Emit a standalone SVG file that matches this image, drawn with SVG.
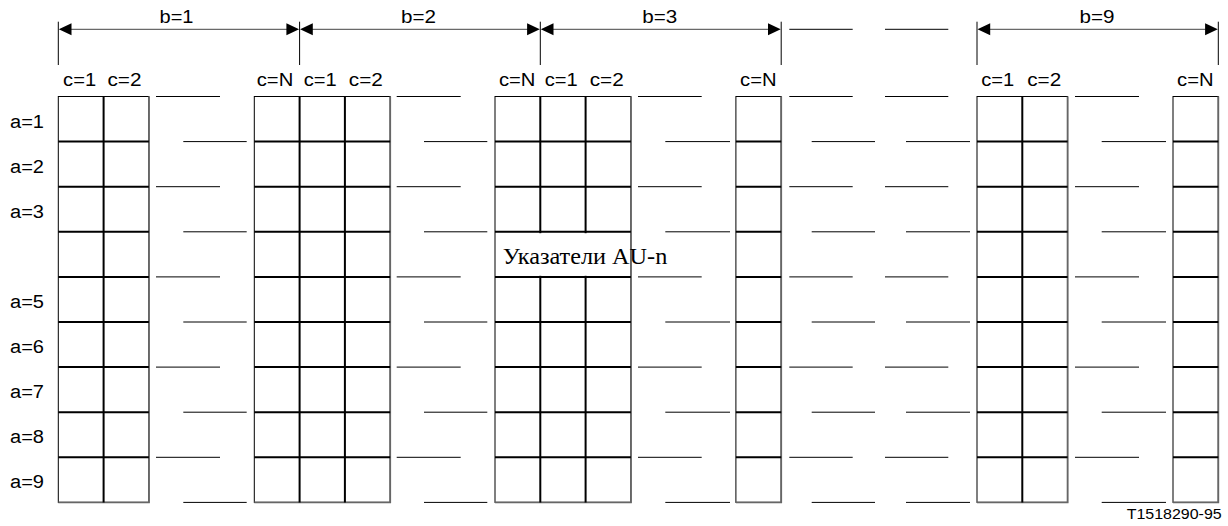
<svg xmlns="http://www.w3.org/2000/svg" width="1228" height="526" viewBox="0 0 1228 526">
<style>
.out{fill:none;stroke:#000;stroke-width:1}
.sh{fill:none;stroke:#666;stroke-width:1.8}
.in{fill:none;stroke:#000;stroke-width:2}
.dash{fill:none;stroke:#000;stroke-width:1}
.tick{fill:none;stroke:#000;stroke-width:1}
.dim{fill:none;stroke:#444;stroke-width:1}
.head{fill:#000;stroke:none}
.lbl{font-family:"Liberation Sans",Arial,sans-serif;font-size:18px;fill:#000}
.mid{text-anchor:middle}
</style>
<rect width="1228" height="526" fill="#fff"/>

<g id="group-b1-c1c2">
<rect class="out" x="58.3" y="96.5" width="90.6" height="405.9"/>
<path class="sh" d="M148.9,96.5 V502.4 H58.3"/>
<path class="in" d="M103.6,96.5 V502.4 M58.3,141.6 H148.9 M58.3,186.7 H148.9 M58.3,231.8 H148.9 M58.3,276.9 H148.9 M58.3,322 H148.9 M58.3,367.1 H148.9 M58.3,412.2 H148.9 M58.3,457.3 H148.9"/>
</g>

<g id="group-b1-cN-b2-c1c2">
<rect class="out" x="254.3" y="96.5" width="135.9" height="405.9"/>
<path class="sh" d="M390.2,96.5 V502.4 H254.3"/>
<path class="in" d="M299.6,96.5 V502.4 M344.9,96.5 V502.4 M254.3,141.6 H390.2 M254.3,186.7 H390.2 M254.3,231.8 H390.2 M254.3,276.9 H390.2 M254.3,322 H390.2 M254.3,367.1 H390.2 M254.3,412.2 H390.2 M254.3,457.3 H390.2"/>
</g>

<g id="group-b2-cN-b3-c1c2">
<rect class="out" x="495" y="96.5" width="135.9" height="405.9"/>
<path class="sh" d="M630.9,96.5 V502.4 H495"/>
<path class="in" d="M540.3,96.5 V502.4 M585.6,96.5 V502.4 M495,141.6 H630.9 M495,186.7 H630.9 M495,231.8 H630.9 M495,276.9 H630.9 M495,322 H630.9 M495,367.1 H630.9 M495,412.2 H630.9 M495,457.3 H630.9"/>
</g>

<g id="group-b3-cN">
<rect class="out" x="735.9" y="96.5" width="45.3" height="405.9"/>
<path class="sh" d="M781.2,96.5 V502.4 H735.9"/>
<path class="in" d="M735.9,141.6 H781.2 M735.9,186.7 H781.2 M735.9,231.8 H781.2 M735.9,276.9 H781.2 M735.9,322 H781.2 M735.9,367.1 H781.2 M735.9,412.2 H781.2 M735.9,457.3 H781.2"/>
</g>

<g id="group-b9-c1c2">
<rect class="out" x="977" y="96.5" width="90.6" height="405.9"/>
<path class="sh" d="M1067.6,96.5 V502.4 H977"/>
<path class="in" d="M1022.3,96.5 V502.4 M977,141.6 H1067.6 M977,186.7 H1067.6 M977,231.8 H1067.6 M977,276.9 H1067.6 M977,322 H1067.6 M977,367.1 H1067.6 M977,412.2 H1067.6 M977,457.3 H1067.6"/>
</g>

<g id="group-b9-cN">
<rect class="out" x="1173" y="96.5" width="45.3" height="405.9"/>
<path class="sh" d="M1218.3,96.5 V502.4 H1173"/>
<path class="in" d="M1173,141.6 H1218.3 M1173,186.7 H1218.3 M1173,231.8 H1218.3 M1173,276.9 H1218.3 M1173,322 H1218.3 M1173,367.1 H1218.3 M1173,412.2 H1218.3 M1173,457.3 H1218.3"/>
</g>

<g id="ellipsis-lines">
<path class="dash" d="M789.3,29.3 H852.7 M885,29.3 H948.3"/>
<path class="dash" d="M156,96.5 H220 M396.7,96.5 H460.7 M638,96.5 H701.7 M789.3,96.5 H852.7 M885,96.5 H948.3 M1075,96.5 H1139
M156,186.7 H220 M396.7,186.7 H460.7 M638,186.7 H701.7 M789.3,186.7 H852.7 M885,186.7 H948.3 M1075,186.7 H1139
M156,276.9 H220 M396.7,276.9 H460.7 M638,276.9 H701.7 M789.3,276.9 H852.7 M885,276.9 H948.3 M1075,276.9 H1139
M156,367.1 H220 M396.7,367.1 H460.7 M638,367.1 H701.7 M789.3,367.1 H852.7 M885,367.1 H948.3 M1075,367.1 H1139
M156,457.3 H220 M396.7,457.3 H460.7 M638,457.3 H701.7 M789.3,457.3 H852.7 M885,457.3 H948.3 M1075,457.3 H1139"/>
<path class="dash" d="M183.3,141.6 H246.7 M424,141.6 H487.3 M665.3,141.6 H730 M811.7,141.6 H875 M906,141.6 H970 M1101.7,141.6 H1166
M183.3,231.8 H246.7 M424,231.8 H487.3 M665.3,231.8 H730 M811.7,231.8 H875 M906,231.8 H970 M1101.7,231.8 H1166
M183.3,322 H246.7 M424,322 H487.3 M665.3,322 H730 M811.7,322 H875 M906,322 H970 M1101.7,322 H1166
M183.3,412.2 H246.7 M424,412.2 H487.3 M665.3,412.2 H730 M811.7,412.2 H875 M906,412.2 H970 M1101.7,412.2 H1166
M183.3,502.4 H246.7 M424,502.4 H487.3 M665.3,502.4 H730 M811.7,502.4 H875 M906,502.4 H970 M1101.7,502.4 H1166"/>
</g>

<g id="connectors">
<path class="tick" d="M58.3,21.7 V65 M299.6,21.7 V65 M540.3,21.7 V65 M781.2,21.7 V65 M977,21.7 V65 M1218.3,21.7 V65"/>
<path class="dim" d="M70,29.3 H288 M311,29.3 H529 M552,29.3 H770 M989,29.3 H1207"/>
<path class="head" d="M58.8,29.3 L71.5,23.3 L71.5,35.3 Z M299.1,29.3 L286.4,23.3 L286.4,35.3 Z
M300.1,29.3 L312.8,23.3 L312.8,35.3 Z M539.8,29.3 L527.1,23.3 L527.1,35.3 Z
M540.8,29.3 L553.5,23.3 L553.5,35.3 Z M780.7,29.3 L768,23.3 L768,35.3 Z
M977.5,29.3 L990.2,23.3 L990.2,35.3 Z M1217.8,29.3 L1205.1,23.3 L1205.1,35.3 Z"/>
</g>

<g id="dimension-labels">
<text class="lbl mid" x="176.5" y="22.7" textLength="34" lengthAdjust="spacingAndGlyphs">b=1</text>
<text class="lbl mid" x="418.5" y="22.7" textLength="35" lengthAdjust="spacingAndGlyphs">b=2</text>
<text class="lbl mid" x="659.7" y="22.7" textLength="35" lengthAdjust="spacingAndGlyphs">b=3</text>
<text class="lbl mid" x="1097" y="22.7" textLength="35" lengthAdjust="spacingAndGlyphs">b=9</text>
</g>

<g id="column-labels">
<text class="lbl mid" x="79.6" y="86" textLength="33" lengthAdjust="spacingAndGlyphs">c=1</text>
<text class="lbl mid" x="124.5" y="86" textLength="34" lengthAdjust="spacingAndGlyphs">c=2</text>
<text class="lbl mid" x="275" y="86" textLength="36.5" lengthAdjust="spacingAndGlyphs">c=N</text>
<text class="lbl mid" x="320.3" y="86" textLength="33" lengthAdjust="spacingAndGlyphs">c=1</text>
<text class="lbl mid" x="365.8" y="86" textLength="34" lengthAdjust="spacingAndGlyphs">c=2</text>
<text class="lbl mid" x="517.2" y="86" textLength="36.5" lengthAdjust="spacingAndGlyphs">c=N</text>
<text class="lbl mid" x="561.3" y="86" textLength="33" lengthAdjust="spacingAndGlyphs">c=1</text>
<text class="lbl mid" x="606.7" y="86" textLength="34" lengthAdjust="spacingAndGlyphs">c=2</text>
<text class="lbl mid" x="758.3" y="86" textLength="36.5" lengthAdjust="spacingAndGlyphs">c=N</text>
<text class="lbl mid" x="997.8" y="86" textLength="33" lengthAdjust="spacingAndGlyphs">c=1</text>
<text class="lbl mid" x="1044.2" y="86" textLength="34" lengthAdjust="spacingAndGlyphs">c=2</text>
<text class="lbl mid" x="1195.3" y="86" textLength="36.5" lengthAdjust="spacingAndGlyphs">c=N</text>
</g>

<g id="row-labels">
<text class="lbl" x="10" y="127.5" textLength="34" lengthAdjust="spacingAndGlyphs">a=1</text>
<text class="lbl" x="10" y="172.6" textLength="34" lengthAdjust="spacingAndGlyphs">a=2</text>
<text class="lbl" x="10" y="217.7" textLength="34" lengthAdjust="spacingAndGlyphs">a=3</text>
<text class="lbl" x="10" y="308" textLength="34" lengthAdjust="spacingAndGlyphs">a=5</text>
<text class="lbl" x="10" y="353.1" textLength="34" lengthAdjust="spacingAndGlyphs">a=6</text>
<text class="lbl" x="10" y="398.2" textLength="34" lengthAdjust="spacingAndGlyphs">a=7</text>
<text class="lbl" x="10" y="443.3" textLength="34" lengthAdjust="spacingAndGlyphs">a=8</text>
<text class="lbl" x="10" y="488.4" textLength="34" lengthAdjust="spacingAndGlyphs">a=9</text>
</g>

<g id="pointer-label">
<rect x="497" y="233.2" width="132.8" height="42.6" fill="#fff"/>
<text x="502.7" y="264.3" font-family="'Liberation Serif','Times New Roman',serif" font-size="23.5" textLength="164.6" lengthAdjust="spacingAndGlyphs" fill="#000">Указатели AU-n</text>
</g>

<g id="figure-id">
<text x="1126.7" y="519.3" font-family="'Liberation Sans',Arial,sans-serif" font-size="14" textLength="95" lengthAdjust="spacingAndGlyphs" fill="#000">T1518290-95</text>
</g>
</svg>
